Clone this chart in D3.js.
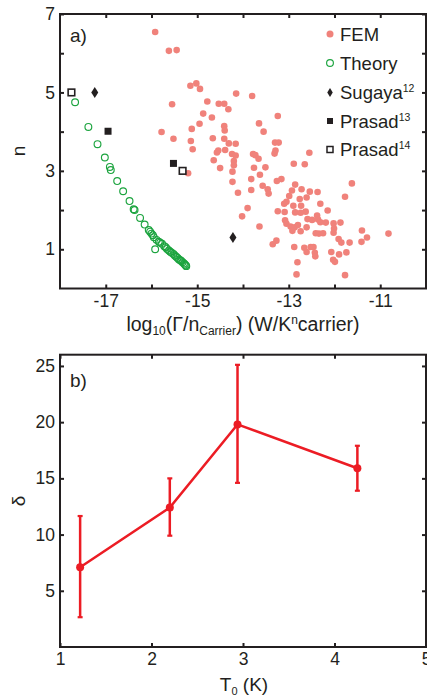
<!DOCTYPE html>
<html>
<head>
<meta charset="utf-8">
<script src="https://cdn.jsdelivr.net/npm/d3@7"></script>
<style>
  body { margin: 0; background: #fff; }
  svg text { font-family: "Liberation Sans", Arial, Helvetica, sans-serif; fill: #231f20; }
</style>
</head>
<body>
<div id="chart"></div>
<script>
// ---- panel a data: [log10(Gamma/nCarrier), n]
const femPoints = [
  [-15.92, 6.54], [-15.62, 6.06], [-15.45, 6.08], [-15.15, 5.17], [-15.02, 5.23], [-14.94, 5.09],
  [-15.55, 4.70], [-14.15, 4.97], [-13.80, 4.91], [-14.78, 4.77], [-14.53, 4.71], [-14.41, 4.71],
  [-14.32, 4.57], [-14.87, 4.46], [-14.68, 4.36], [-13.24, 4.40], [-15.78, 3.99], [-15.52, 3.82],
  [-15.12, 4.07], [-14.95, 4.20], [-15.14, 3.76], [-15.10, 3.55], [-14.66, 3.83], [-14.41, 4.14],
  [-14.40, 4.03], [-14.41, 3.82], [-14.31, 3.70], [-14.16, 3.69], [-14.57, 3.47], [-14.54, 3.52],
  [-14.64, 3.27], [-14.39, 3.53], [-14.24, 3.43], [-14.16, 3.39], [-14.20, 3.25], [-14.20, 3.14],
  [-14.50, 3.07], [-14.23, 2.98], [-13.65, 4.21], [-13.55, 4.00], [-13.30, 3.72], [-13.22, 3.72],
  [-13.29, 3.52], [-13.31, 3.44], [-13.78, 3.43], [-13.73, 3.40], [-13.66, 3.31], [-13.76, 3.08],
  [-13.51, 3.09], [-12.55, 3.46], [-12.89, 3.18], [-12.65, 3.17], [-13.16, 2.79], [-13.26, 2.74],
  [-13.82, 2.79], [-13.63, 2.90], [-13.82, 2.51], [-14.11, 2.44], [-14.23, 2.72], [-13.57, 2.62],
  [-13.46, 2.53], [-13.44, 2.42], [-12.86, 2.65], [-12.93, 2.50], [-12.72, 2.53], [-12.54, 2.47],
  [-12.37, 2.46], [-12.99, 2.36], [-13.10, 2.16], [-13.05, 2.21], [-12.76, 2.28], [-12.61, 2.32],
  [-12.31, 2.16], [-12.73, 2.11], [-12.90, 2.11], [-12.86, 1.94], [-12.63, 1.96], [-13.24, 1.97],
  [-13.09, 1.95], [-12.15, 1.99], [-12.38, 1.86], [-12.36, 1.76], [-12.59, 1.77], [-12.49, 1.75],
  [-12.31, 1.69], [-12.19, 1.68], [-13.08, 1.74], [-13.05, 1.65], [-12.96, 1.58], [-12.87, 1.56],
  [-12.80, 1.62], [-12.74, 1.46], [-12.92, 1.47], [-12.61, 1.56], [-12.02, 1.66], [-11.87, 1.68],
  [-11.62, 2.68], [-11.77, 2.34], [-13.90, 2.05], [-14.02, 1.84], [-13.64, 1.58], [-12.01, 1.53],
  [-11.40, 1.48], [-10.82, 1.40], [-11.29, 1.30], [-11.91, 1.26], [-12.02, 1.42], [-12.34, 1.40],
  [-12.41, 1.41], [-12.25, 1.41], [-13.35, 1.13], [-13.27, 1.22], [-12.88, 1.06], [-12.66, 1.04],
  [-12.52, 1.06], [-12.46, 1.06], [-12.61, 0.93], [-12.43, 0.91], [-12.42, 0.82], [-12.07, 0.93],
  [-11.90, 0.87], [-11.74, 0.92], [-12.03, 0.73], [-11.99, 0.68], [-11.67, 1.17], [-11.41, 1.19],
  [-11.85, 1.17], [-12.81, 0.67], [-12.83, 0.36], [-11.77, 0.34], [-15.20, 2.94], [-12.74, 1.93]
];

const theoryPoints = [
  [-17.67, 4.75], [-17.38, 4.12], [-17.18, 3.68], [-17.02, 3.34], [-16.91, 3.10], [-16.89, 3.02],
  [-16.75, 2.74], [-16.62, 2.48], [-16.48, 2.23], [-16.39, 2.02], [-16.37, 2.00], [-16.25, 1.80],
  [-16.15, 1.63], [-16.06, 1.49], [-16.03, 1.45], [-16.00, 1.40], [-15.97, 1.36], [-15.95, 1.31],
  [-15.89, 1.24], [-15.84, 1.19], [-15.81, 1.17], [-15.92, 1.00], [-15.77, 1.14], [-15.72, 1.08],
  [-15.69, 1.05], [-15.66, 1.01], [-15.62, 0.97], [-15.59, 0.94], [-15.56, 0.91], [-15.52, 0.88],
  [-15.49, 0.84], [-15.46, 0.81], [-15.43, 0.78], [-15.40, 0.74], [-15.37, 0.72], [-15.35, 0.70],
  [-15.32, 0.67], [-15.29, 0.64], [-15.27, 0.61], [-15.25, 0.59], [-15.24, 0.57]
];

const sugayaPoints = [[-17.24, 5.0], [-14.22, 1.30]];
const prasad13Points = [[-16.95, 4.01], [-15.52, 3.19]];
const prasad14Points = [[-17.75, 5.0], [-15.32, 3.0]];

const legendLabels = ["FEM", "Theory", "Sugaya", "Prasad", "Prasad"];
const legendRefs = ["", "", "12", "13", "14"];

// ---- panel b data
const t0Values = [1.22, 2.2, 2.94, 4.25];
const deltaValues = [7.1, 12.4, 19.8, 15.9];
const deltaLow = [2.65, 9.9, 14.6, 13.9];
const deltaHigh = [11.65, 15.0, 25.1, 17.9];

const W = 427, H = 698;
const ink = "#231f20";
const femColor = "#f0827b";
const theoryColor = "#1ca43f";
const red = "#ec1c24";

const svg = d3.select("#chart").append("svg")
  .attr("width", W).attr("height", H);

function frame(g, x, y, xTicks, yTicks, xFmt, yFmt) {
  const [x0, x1] = x.range();
  const [y0, y1] = y.range();
  g.append("g").attr("transform", `translate(0,${y0})`)
    .call(d3.axisBottom(x).tickValues(xTicks).tickSize(-4).tickPadding(6).tickFormat(xFmt));
  g.append("g").attr("transform", `translate(0,${y1})`)
    .call(d3.axisTop(x).tickValues(xTicks).tickSize(-4).tickFormat(""));
  g.append("g").attr("transform", `translate(${x0},0)`)
    .call(d3.axisLeft(y).tickValues(yTicks).tickSize(-4).tickPadding(5).tickFormat(yFmt));
  g.append("g").attr("transform", `translate(${x1},0)`)
    .call(d3.axisRight(y).tickValues(yTicks).tickSize(-4).tickFormat(""));
  g.selectAll(".domain").remove();
  g.selectAll(".tick line").attr("stroke", ink).attr("stroke-width", 2);
  g.selectAll(".tick text").attr("font-size", 17.5).attr("fill", ink);
  g.append("rect")
    .attr("x", x0).attr("y", y1).attr("width", x1 - x0).attr("height", y0 - y1)
    .attr("fill", "none").attr("stroke", ink).attr("stroke-width", 2);
}

// ================= panel a =================
const xa = d3.scaleLinear().domain([-18, -10]).range([60, 426]);
const ya = d3.scaleLinear().domain([0, 7]).range([288.5, 14]);
const ga = svg.append("g");

ga.selectAll(".fem").data(femPoints).enter().append("circle")
  .attr("cx", d => xa(d[0])).attr("cy", d => ya(d[1])).attr("r", 3.3)
  .attr("fill", femColor);

ga.selectAll(".theory").data(theoryPoints).enter().append("circle")
  .attr("cx", d => xa(d[0])).attr("cy", d => ya(d[1])).attr("r", 3.4)
  .attr("fill", "none").attr("stroke", theoryColor).attr("stroke-width", 1.15);

const diamond = (cx, cy, w, h) => `M${cx},${cy - h / 2}L${cx + w / 2},${cy}L${cx},${cy + h / 2}L${cx - w / 2},${cy}Z`;

ga.selectAll(".sugaya").data(sugayaPoints).enter().append("path")
  .attr("d", d => diamond(xa(d[0]), ya(d[1]), 7, 11)).attr("fill", ink);

ga.selectAll(".p13").data(prasad13Points).enter().append("rect")
  .attr("x", d => xa(d[0]) - 3.5).attr("y", d => ya(d[1]) - 3.5)
  .attr("width", 7).attr("height", 7).attr("fill", ink);

ga.selectAll(".p14").data(prasad14Points).enter().append("rect")
  .attr("x", d => xa(d[0]) - 3.3).attr("y", d => ya(d[1]) - 3.3)
  .attr("width", 6.6).attr("height", 6.6).attr("fill", "#fff")
  .attr("stroke", ink).attr("stroke-width", 1.6);

frame(ga, xa, ya, d3.range(-17, -10), d3.range(1, 8),
  d => (d % 2 !== 0 ? String(d) : ""), d => (d % 2 === 1 ? String(d) : ""));

ga.append("text").attr("x", 70).attr("y", 42).attr("font-size", 19).text("a)");

// legend
const legY = [34, 63, 92.5, 121, 149.5];
const leg = ga.append("g");
leg.append("circle").attr("cx", 330).attr("cy", legY[0]).attr("r", 3.5).attr("fill", femColor);
leg.append("circle").attr("cx", 330).attr("cy", legY[1]).attr("r", 3.4)
  .attr("fill", "none").attr("stroke", theoryColor).attr("stroke-width", 1.15);
leg.append("path").attr("d", diamond(330, legY[2], 5.5, 9)).attr("fill", ink);
leg.append("rect").attr("x", 327).attr("y", legY[3] - 3).attr("width", 6).attr("height", 6).attr("fill", ink);
leg.append("rect").attr("x", 327).attr("y", legY[4] - 3).attr("width", 6).attr("height", 6)
  .attr("fill", "#fff").attr("stroke", ink).attr("stroke-width", 1.5);

legendLabels.forEach((lab, i) => {
  const t = leg.append("text").attr("x", 340).attr("y", legY[i] + 6.5).attr("font-size", 18.5).text(lab);
  if (legendRefs[i]) {
    t.append("tspan").attr("font-size", 10.5).attr("dy", -7).text(legendRefs[i]);
  }
});

// axis labels
ga.append("text").attr("transform", "translate(25,151) rotate(-90)")
  .attr("text-anchor", "middle").attr("font-size", 19).text("n");

const xlab = ga.append("text").attr("x", 243).attr("y", 331)
  .attr("text-anchor", "middle").attr("font-size", 19.5);
xlab.append("tspan").text("log");
xlab.append("tspan").attr("font-size", 12).attr("dy", 4).text("10");
xlab.append("tspan").attr("dy", -4).text("(Γ/n");
xlab.append("tspan").attr("font-size", 12).attr("dy", 4).text("Carrier");
xlab.append("tspan").attr("dy", -4).text(") (W/K");
xlab.append("tspan").attr("font-size", 12).attr("dy", -7).text("n");
xlab.append("tspan").attr("dy", 7).text("carrier)");

// ================= panel b =================
const xb = d3.scaleLinear().domain([1, 5]).range([60, 426]);
const yb = d3.scaleLinear().domain([0, 26]).range([647, 354.7]);
const gb = svg.append("g");

const seriesB = t0Values.map((t, i) => ({ t, v: deltaValues[i], lo: deltaLow[i], hi: deltaHigh[i] }));

gb.append("path").datum(seriesB)
  .attr("d", d3.line().x(d => xb(d.t)).y(d => yb(d.v)))
  .attr("fill", "none").attr("stroke", red).attr("stroke-width", 2.5);

const eb = gb.selectAll(".err").data(seriesB).enter().append("g");
eb.append("line").attr("x1", d => xb(d.t)).attr("x2", d => xb(d.t))
  .attr("y1", d => yb(d.lo)).attr("y2", d => yb(d.hi))
  .attr("stroke", red).attr("stroke-width", 2.5);
eb.append("line").attr("x1", d => xb(d.t) - 2.5).attr("x2", d => xb(d.t) + 2.5)
  .attr("y1", d => yb(d.hi)).attr("y2", d => yb(d.hi))
  .attr("stroke", red).attr("stroke-width", 2.2);
eb.append("line").attr("x1", d => xb(d.t) - 2.5).attr("x2", d => xb(d.t) + 2.5)
  .attr("y1", d => yb(d.lo)).attr("y2", d => yb(d.lo))
  .attr("stroke", red).attr("stroke-width", 2.2);
eb.append("circle").attr("cx", d => xb(d.t)).attr("cy", d => yb(d.v)).attr("r", 4)
  .attr("fill", red);

frame(gb, xb, yb, [1, 2, 3, 4, 5], [5, 10, 15, 20, 25], d => String(d), d => String(d));

gb.append("text").attr("x", 70).attr("y", 387).attr("font-size", 19).text("b)");

gb.append("text").attr("transform", "translate(25,501) rotate(-90)")
  .attr("text-anchor", "middle").attr("font-size", 19).text("δ");

const tlab = gb.append("text").attr("x", 244).attr("y", 691)
  .attr("text-anchor", "middle").attr("font-size", 19);
tlab.append("tspan").text("T");
tlab.append("tspan").attr("font-size", 11).attr("dy", 3.5).text("0");
tlab.append("tspan").attr("dy", -3.5).text(" (K)");
</script>
</body>
</html>
